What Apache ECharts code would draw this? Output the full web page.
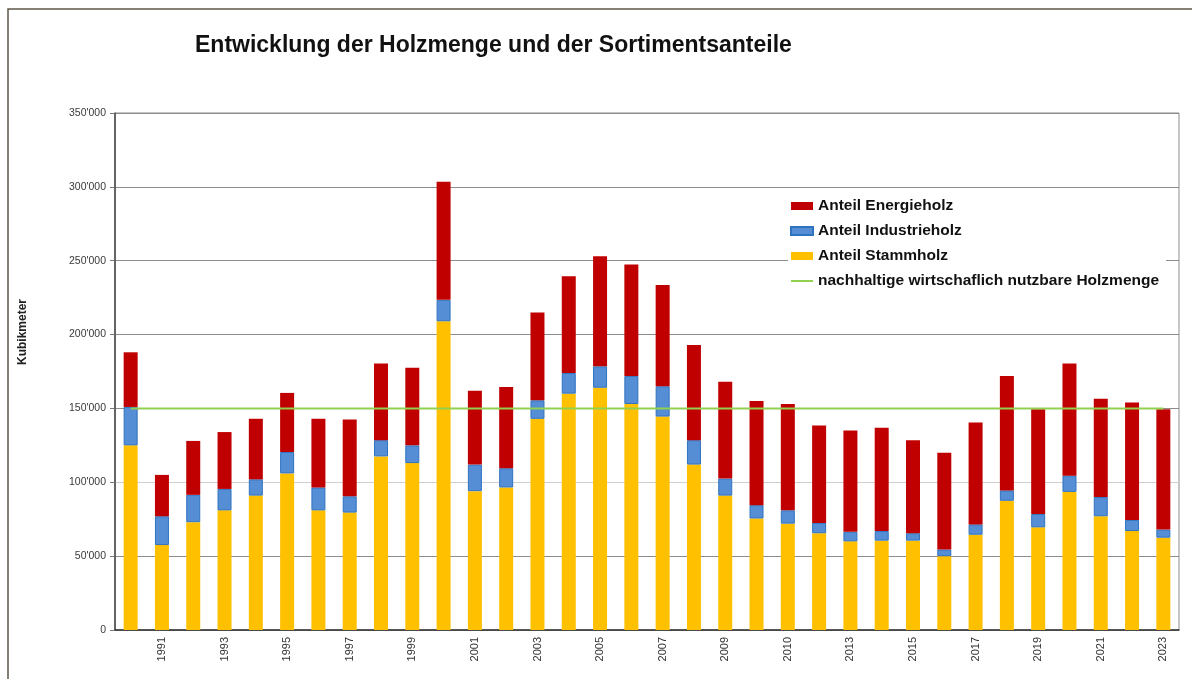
<!DOCTYPE html>
<html>
<head>
<meta charset="utf-8">
<title>Entwicklung der Holzmenge</title>
<script src="https://cdn.jsdelivr.net/npm/echarts@6/dist/echarts.min.js"></script>
<style>
  html, body { margin: 0; padding: 0; background: #fff; }
  #holzmenge_chart { width: 1192px; height: 679px; }
</style>
</head>
<body>
<div id="holzmenge_chart"></div>
<script>
// Jahre (Kategorien) und die Beschriftung, die unter der Achse steht
const years = [
  "1990", "1991", "1992", "1993", "1994", "1995", "1996", "1997", "1998", "1999",
  "2000", "2001", "2002", "2003", "2004", "2005", "2006", "2007", "2008", "2009",
  "2010", "2011", "2012", "2013", "2014", "2015", "2016", "2017", "2018", "2019",
  "2020", "2021", "2022", "2023",
];
const tickLabels = [
  "", "1991", "", "1993", "", "1995", "", "1997", "", "1999",
  "", "2001", "", "2003", "", "2005", "", "2007", "", "2009",
  "", "2010", "", "2013", "", "2015", "", "2017", "", "2019",
  "", "2021", "", "2023",
];

// Kubikmeter je Sortiment
const stammholz = [
  125000, 57500, 73000, 81000, 91000, 106000, 81000, 79500, 117500, 113000,
  209000, 94000, 96500, 143000, 160000, 164000, 153000, 144500, 112000, 91000,
  75500, 72000, 65500, 60000, 60500, 60500, 50000, 64500, 87500, 69500,
  93500, 77000, 67000, 62500,
];
const industrieholz = [
  26000, 19500, 18500, 14500, 11000, 14500, 15500, 11000, 11000, 12000,
  14500, 18000, 13000, 12500, 14000, 14500, 19000, 20500, 16500, 11500,
  9000, 9000, 7000, 6500, 6500, 5000, 4500, 7000, 7000, 9000,
  11000, 13000, 7500, 5500,
];
const energieholz = [
  37000, 28000, 36500, 38500, 41000, 40000, 46500, 52000, 52000, 52500,
  80000, 50000, 55000, 59500, 65500, 74500, 75500, 68500, 64500, 65500,
  70500, 72000, 66000, 68500, 70000, 63000, 65500, 69000, 77500, 71000,
  76000, 66500, 79500, 81500,
];
const nachhaltig = [
  150000, 150000, 150000, 150000, 150000, 150000, 150000, 150000, 150000, 150000,
  150000, 150000, 150000, 150000, 150000, 150000, 150000, 150000, 150000, 150000,
  150000, 150000, 150000, 150000, 150000, 150000, 150000, 150000, 150000, 150000,
  150000, 150000, 150000, 150000,
];

const chartDom = document.getElementById("holzmenge_chart");
const holzChart = echarts.init(chartDom);

const fontFamily = "'Liberation Sans', Arial, sans-serif";

function swissNumber(value) {
  return String(value).replace(/\B(?=(\d{3})+(?!\d))/g, "'");
}

const option = {
  animation: false,
  backgroundColor: "#ffffff",
  title: {
    text: "Entwicklung der Holzmenge und der Sortimentsanteile",
    left: 195,
    top: 34,
    padding: 0,
    textStyle: {
      fontFamily: fontFamily,
      fontSize: 23,
      fontWeight: "bold",
      color: "#111111",
    },
  },
  legend: {
    orient: "vertical",
    left: 788,
    top: 192,
    padding: [6, 7, 8, 2],
    backgroundColor: "#ffffff",
    itemGap: 9,
    itemWidth: 22,
    itemHeight: 8,
    data: [
      { name: "Anteil Energieholz", icon: "rect" },
      { name: "Anteil Industrieholz", icon: "rect" },
      { name: "Anteil Stammholz", icon: "rect" },
      {
        name: "nachhaltige wirtschaflich nutzbare Holzmenge",
        icon: "path://M0,0H44V4H0Z",
      },
    ],
    symbolKeepAspect: true,
    textStyle: {
      fontFamily: fontFamily,
      fontSize: 15.5,
      fontWeight: "bold",
      color: "#111111",
      lineHeight: 15,
    },
  },
  graphic: [
    {
      type: "rect",
      shape: { x: 8, y: 9, width: 1200, height: 700 },
      style: { fill: "none", stroke: "#5e5548", lineWidth: 1.5 },
      silent: true,
    },
    {
      type: "text",
      x: 23,
      y: 332,
      rotation: Math.PI / 2,
      style: {
        text: "Kubikmeter",
        fontFamily: fontFamily,
        fontSize: 12,
        fontWeight: "bold",
        fill: "#222222",
        align: "center",
        verticalAlign: "middle",
      },
    },
  ],
  grid: {
    left: 115,
    right: 13,
    top: 113,
    bottom: 49,
    show: true,
    borderColor: "#8c8c8c",
    borderWidth: 1,
  },
  xAxis: {
    type: "category",
    data: years,
    boundaryGap: true,
    axisLine: { lineStyle: { color: "#333333", width: 1.5 } },
    axisTick: {
      interval: 0,
      length: 4,
      lineStyle: { color: "#333333" },
    },
    axisLabel: {
      interval: 0,
      rotate: 90,
      margin: 7,
      fontFamily: fontFamily,
      fontSize: 11,
      color: "#333333",
      formatter: function (value, index) {
        return tickLabels[index];
      },
    },
  },
  yAxis: {
    type: "value",
    min: 0,
    max: 350000,
    interval: 50000,
    axisLine: { show: true, lineStyle: { color: "#444444", width: 1.5 } },
    axisTick: { show: true, length: 5, lineStyle: { color: "#777777" } },
    axisLabel: {
      margin: 9,
      fontFamily: fontFamily,
      fontSize: 10.5,
      color: "#3a3a3a",
      formatter: swissNumber,
    },
    splitLine: {
      lineStyle: {
        color: [
          "#8c8c8c", "#8c8c8c", "#cfcfcf", "#8c8c8c",
          "#8c8c8c", "#8c8c8c", "#8c8c8c", "#8c8c8c",
        ],
        width: 1,
      },
    },
  },
  series: [
    {
      name: "Anteil Stammholz",
      type: "bar",
      stack: "holz",
      barWidth: 14,
      itemStyle: { color: "#FFC000" },
      data: stammholz,
    },
    {
      name: "Anteil Industrieholz",
      type: "bar",
      stack: "holz",
      barWidth: 14,
      itemStyle: { color: "#558ED5", borderColor: "#2f72c0", borderWidth: 1 },
      data: industrieholz,
    },
    {
      name: "Anteil Energieholz",
      type: "bar",
      stack: "holz",
      barWidth: 14,
      itemStyle: { color: "#C00000" },
      data: energieholz,
    },
    {
      name: "nachhaltige wirtschaflich nutzbare Holzmenge",
      type: "line",
      symbol: "none",
      z: 5,
      itemStyle: { color: "#92D050" },
      lineStyle: { color: "#92D050", width: 2 },
      data: nachhaltig,
    },
  ],
};

option && holzChart.setOption(option);
</script>
</body>
</html>
